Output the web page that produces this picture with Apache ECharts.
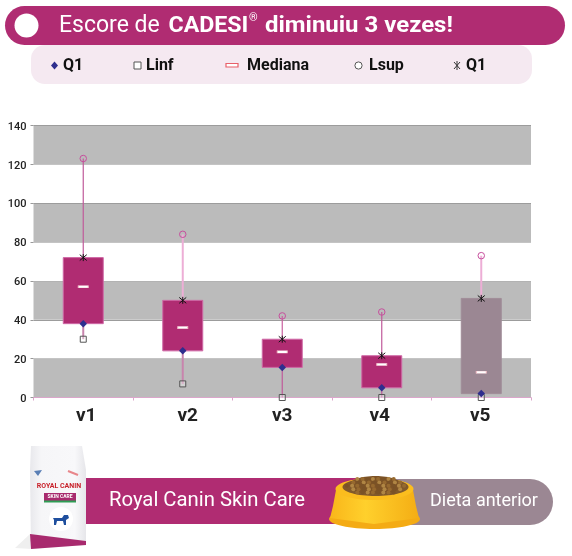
<!DOCTYPE html>
<html><head><meta charset="utf-8">
<style>html,body{margin:0;padding:0;background:#fff}#c{width:572px;height:556px}</style>
<script src="https://cdn.jsdelivr.net/npm/echarts@6/dist/echarts.min.js"></script>
</head><body><div id="c"></div>
<script>
const categories = ['v1','v2','v3','v4','v5'];
const q1Values = [38,24,15.5,5,2];
const q3Values = [72,50,30,21.5,51];
const medianValues = [57,36,23.5,17,13];
const lowerLimits = [30,7,0,0,0];
const upperLimits = [123,84,42,44,73];
const boxColors = ['#b02c72','#b02c72','#b02c72','#b02c72','#9b8793'];
const boxBorders = ['#cf68a6','#cf68a6','#cf68a6','#cf68a6','#a08c98'];
const upperWhisker = [['#c05a9a',1.2],['#edaed6',2],['#c9609f',1.2],['#c05a9a',1.2],['#edaed6',2]];
const lowerWhisker = [['#c884ad',2],['#c884ad',2],['#c05a9a',1.2],['#c05a9a',1.2],['#c05a9a',1.2]];
const labelShift = [3,5,0,-2,-1];
const yTicks = {min:0,max:140,interval:20};

echarts.graphic.registerShape('ellipse', echarts.graphic.Ellipse);

const PURPLE='#b02c72', GREY='#9b8793', F='Roboto, sans-serif';
const STAR='path://M-1 -1 L1 1 M1 -1 L-1 1 M0 -1.2 L0 1.2';
const idx=categories.map((c,i)=>i);

function boxItem(params,api){
  const i=api.value(0);
  const cx=api.coord([i,0])[0];
  const w=40;
  const yQ1=api.coord([i,api.value(1)])[1], yQ3=api.coord([i,api.value(2)])[1];
  const yLo=api.coord([i,api.value(3)])[1], yHi=api.coord([i,api.value(4)])[1];
  return {type:'group',children:[
    {type:'line',shape:{x1:cx,y1:yHi,x2:cx,y2:yQ3},style:{stroke:upperWhisker[i][0],lineWidth:upperWhisker[i][1]}},
    {type:'line',shape:{x1:cx,y1:yQ1,x2:cx,y2:yLo},style:{stroke:lowerWhisker[i][0],lineWidth:lowerWhisker[i][1]}},
    {type:'rect',shape:{x:cx-w/2,y:yQ3,width:w,height:yQ1-yQ3},style:{fill:boxColors[i],stroke:boxBorders[i],lineWidth:1}}
  ]};
}

/* ---------- decoration ---------- */
function txt(x,y,text,size,weight,fill,align,scaleX){
  return {type:'text',x:x,y:y,z:20,scaleX:scaleX||1,style:{text:text,font:(weight||'400')+' '+size+'px '+F,fill:fill||'#fff',align:align||'left',verticalAlign:'middle'}};
}
const header=[
  {type:'rect',shape:{x:5,y:6,width:560,height:39,r:19.5},style:{fill:PURPLE},z:10},
  {type:'circle',shape:{cx:26.5,cy:25.5,r:12},style:{fill:'#fff'},z:11},
  txt(59,26,'Escore de',23,'400'),
  txt(168.5,26,'CADESI',22.5,'700','#fff','left',1.03),
  txt(249,18,'®',11,'400'),
  txt(265,26,'diminuiu 3 vezes!',22.5,'700','#fff','left',1.065)
];
const legendBg=[{type:'rect',shape:{x:31,y:45,width:501,height:39,r:14},style:{fill:'#f5e9f1'},z:9}];
const legendItems=[
  {type:'polygon',shape:{points:[[54.5,61.5],[58,65.5],[54.5,69.5],[51,65.5]]},style:{fill:'#2e2e8e'},z:20},
  txt(63,65.5,'Q1',16,'700','#111'),
  {type:'rect',shape:{x:134,y:62,width:7,height:7},style:{fill:'#fff',stroke:'#555',lineWidth:1},z:20},
  txt(146,65.5,'Linf',16,'700','#111'),
  {type:'rect',shape:{x:226,y:63.5,width:12,height:3.5},style:{fill:'#fff',stroke:'#e8606a',lineWidth:1.2},z:20},
  txt(247,65.5,'Mediana',16,'700','#111'),
  {type:'circle',shape:{cx:358.5,cy:65.5,r:3.6},style:{fill:'#fff',stroke:'#555',lineWidth:1},z:20},
  txt(369,65.5,'Lsup',16,'700','#111'),
  {type:'line',shape:{x1:454,y1:62,x2:460,y2:69},style:{stroke:'#333',lineWidth:1},z:20},
  {type:'line',shape:{x1:460,y1:62,x2:454,y2:69},style:{stroke:'#333',lineWidth:1},z:20},
  {type:'line',shape:{x1:457,y1:61,x2:457,y2:70},style:{stroke:'#333',lineWidth:1},z:20},
  txt(466,65.5,'Q1',16,'700','#111')
];
const footer=[
  {type:'rect',shape:{x:360,y:479,width:193,height:46,r:[0,23,23,0]},style:{fill:GREY},z:10},
  {type:'rect',shape:{x:85,y:478,width:288,height:46},style:{fill:PURPLE},z:11},
  txt(109,501,'Royal Canin Skin Care',20.3,'400'),
  txt(430,501,'Dieta anterior',18,'400')
];
/* bowl */
const bowl=[
  {type:'ellipse',shape:{cx:374.5,cy:519,rx:45.5,ry:10},style:{fill:'#f4ab14'},z:12},
  {type:'polygon',shape:{points:[[336,490],[333,506],[330,518],[374,524],[419,518],[416,506],[413,490]]},
   style:{fill:{type:'linear',x:0,y:0,x2:1,y2:0,colorStops:[{offset:0,color:'#f9b61a'},{offset:.4,color:'#ffd02c'},{offset:1,color:'#f4ad14'}]}},z:13},
  {type:'ellipse',shape:{cx:374.5,cy:489,rx:39,ry:11},style:{fill:'#fbbd1e'},z:14},
  {type:'ellipse',shape:{cx:375.5,cy:487,rx:33,ry:9},style:{fill:'#80592b'},z:15},
  {type:'ellipse',shape:{cx:375.5,cy:485,rx:26,ry:9},style:{fill:'#7d5326'},z:15}
];
const kib=[];
for(let r=0;r<5;r++){for(let k=0;k<12-Math.abs(r-2)*2;k++){
  const n=12-Math.abs(r-2)*2;
  kib.push({type:'circle',shape:{cx:375.5+(k-(n-1)/2)*5.2+(r%2)*1.2,cy:479+r*3.4,r:2},style:{fill:(k+r)%3==0?'#b08644':((k+r)%3==1?'#96692f':'#7a5226')},z:16});
}}
/* bag */
const bag=[
  {type:'polygon',shape:{points:[[15,548],[30,534],[32,549]]},style:{fill:'#efefef'},z:11},
  {type:'polygon',shape:{points:[[31,446],[82,446],[86,470],[86,545],[31,549],[30,470]]},
   style:{fill:{type:'linear',x:0,y:0,x2:1,y2:0,colorStops:[{offset:0,color:'#e8e8ec'},{offset:.2,color:'#f6f6f8'},{offset:.8,color:'#f8f8fa'},{offset:1,color:'#e6e6ea'}]}},z:12},
  {type:'polygon',shape:{points:[[30,534],[86,541],[86,545],[31,549]]},style:{fill:'#a82a6e'},z:13},
  txt(59,486.5,'ROYAL CANIN',7,'700','#c8232c','center'),
  {type:'rect',shape:{x:44,y:493,width:32,height:8},style:{fill:'#a82a6e'},z:13},
  {type:'rect',shape:{x:44,y:500.5,width:32,height:2},style:{fill:'#2e9e55'},z:13},
  txt(60,497,'SKIN CARE',5,'700','#fff','center'),
  {type:'circle',shape:{cx:61,cy:519,r:12},style:{fill:'#fff'},z:13},
  {type:'polygon',shape:{points:[[53,518],[62,518],[64,515],[68,515],[69,518],[66,520],[66,525],[64,525],[63,521],[57,521],[56,525],[54,525],[54,520]]},style:{fill:'#1f4f9e'},z:14},
  {type:'polygon',shape:{points:[[34,471],[42,470],[38,476]]},style:{fill:'#5a7fb5'},z:13},
  {type:'line',shape:{x1:68,y1:471,x2:78,y2:475},style:{stroke:'#e8868a',lineWidth:2},z:13}
];

const chart=echarts.init(document.getElementById('c'),null,{renderer:'canvas'});
chart.setOption({
  animation:false,
  backgroundColor:'#fff',
  grid:{left:33.5,right:41,top:125.5,bottom:158.5,containLabel:false},
  xAxis:{type:'category',data:categories,boundaryGap:true,
    axisLine:{onZero:false,lineStyle:{color:'#dba6cb',width:1}},
    axisTick:{show:true,alignWithLabel:false,length:3,lineStyle:{color:'#dba6cb'}},
    axisLabel:{margin:9,interval:0,
      formatter:(v,i)=>'{s'+i+'|'+v+'}',
      rich:Object.fromEntries(labelShift.map((s,i)=>['s'+i,{fontFamily:'Roboto',fontWeight:700,fontSize:19,color:'#222',padding:[0,s<0?-s*2:0,0,s>0?s*2:0]}]))}},
  yAxis:{type:'value',min:yTicks.min,max:yTicks.max,interval:yTicks.interval,
    axisLine:{show:false},
    axisTick:{show:true,length:3,lineStyle:{color:'#999'}},
    axisLabel:{margin:7,color:'#222',fontFamily:'Roboto',fontSize:11,fontWeight:500,
      formatter:v=>'{t|'+v+'}',
      rich:{t:{fontFamily:'Roboto',fontSize:11,fontWeight:500,color:'#222',padding:[3,0,0,0]}}},
    splitLine:{show:true,lineStyle:{width:1,color:['#bbbbbb','#c4c4c4','#9c9c9c','#b2b2b2','#c4c4c4','#9c9c9c','#c4c4c4','#9c9c9c']}},
    splitArea:{show:true,areaStyle:{color:['#bbbbbb','#ffffff'],opacity:1}}},
  series:[
    {type:'custom',name:'Caixa',renderItem:boxItem,z:2,clip:false,encode:{x:0,y:[1,2,3,4]},
      data:idx.map(i=>[i,q1Values[i],q3Values[i],lowerLimits[i],upperLimits[i]])},
    {type:'scatter',name:'Linf',z:3,clip:false,data:lowerLimits.map((v,i)=>[i,v]),symbol:'rect',symbolSize:6,
      itemStyle:{color:'rgba(255,255,255,0.35)',opacity:1,borderColor:'#555',borderWidth:1}},
    {type:'scatter',name:'Lsup',z:3,clip:false,data:upperLimits.map((v,i)=>[i,v]),symbol:'circle',symbolSize:6.5,
      itemStyle:{color:'rgba(255,255,255,0)',opacity:1,borderColor:'#c74f9d',borderWidth:1}},
    {type:'scatter',name:'Mediana',z:3,clip:false,data:medianValues.map((v,i)=>[i,v]),symbol:'rect',symbolSize:[10,2.4],
      itemStyle:{color:'#fff',opacity:1,borderColor:'#f3b9c2',borderWidth:.5}},
    {type:'scatter',name:'Q1',z:4,clip:false,data:q1Values.map((v,i)=>[i,v]),symbol:'diamond',symbolSize:7.5,
      itemStyle:{color:'#2e2e8e',opacity:1}},
    {type:'scatter',name:'Q3',z:4,clip:false,data:q3Values.map((v,i)=>[i,v]),symbol:STAR,symbolSize:7,
      itemStyle:{color:'rgba(0,0,0,0)',opacity:1,borderColor:'#111',borderWidth:1}}
  ],
  graphic:{elements:[].concat(header,legendBg,legendItems,footer,bowl,kib,bag)}
});
</script></body></html>
